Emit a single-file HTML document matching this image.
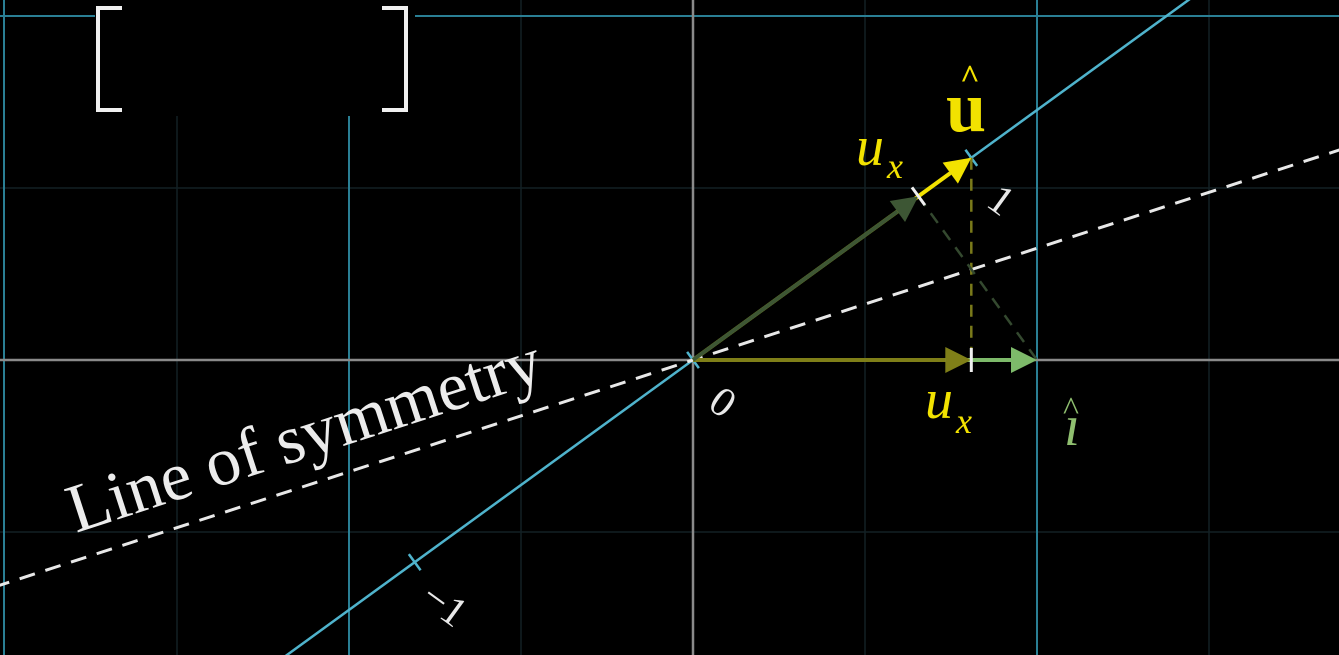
<!DOCTYPE html>
<html><head><meta charset="utf-8"><style>
html,body{margin:0;padding:0;background:#000;width:1339px;height:655px;overflow:hidden}
svg{display:block;overflow:hidden}
text{font-family:"Liberation Serif",serif}
</style></head><body>
<svg id="chart" width="1339" height="655" viewBox="0 0 1339 655">
<rect width="1339" height="655" fill="#000"/>
<g id="grid"></g>
<g id="marks"></g>
</svg>
<script>
// data (in plane units)
const origin = [693, 360];
const unitPx = 344;
const majorGridX = [-2, -1, 1];
const minorGridX = [-1.5, -0.5, 0.5, 1.5];
const majorGridY = [1];
const minorGridY = [0.5, -0.5];
const uAngleDeg = [36];
const uxValue = [0.81];
const tickValues = [-1, 0, 1];

const grid = document.getElementById('grid');
const marks = document.getElementById('marks');
const NS = 'http://www.w3.org/2000/svg';
function X(v){return origin[0] + v*unitPx;}
function Y(v){return origin[1] - v*unitPx;}
function mk(tag, attrs, parent){const e=document.createElementNS(NS,tag);for(const k in attrs)e.setAttribute(k,attrs[k]);(parent||marks).appendChild(e);return e;}

minorGridX.forEach(v=>{
  const l=mk('line',{x1:X(v),y1:0,x2:X(v),y2:655,stroke:'#122024','stroke-width':1.5},grid);
  
  
});
minorGridY.forEach(v=>{
  const l=mk('line',{x1:0,y1:Y(v),x2:1339,y2:Y(v),stroke:'#122024','stroke-width':1.5},grid);
  
  
});
majorGridX.forEach(v=>{
  const l=mk('line',{x1:X(v)+(v===-2?-1:0),y1:0,x2:X(v)+(v===-2?-1:0),y2:655,stroke:'#2a7f94','stroke-width':2},grid);
  
  
});
majorGridY.forEach(v=>{
  const l=mk('line',{x1:0,y1:Y(v),x2:1339,y2:Y(v),stroke:'#2a7f94','stroke-width':2},grid);
  
  
});
let ax=mk('line',{x1:0,y1:Y(0),x2:1339,y2:Y(0),stroke:'#8a8a8a','stroke-width':2.5},grid);


ax=mk('line',{x1:X(0),y1:0,x2:X(0),y2:655,stroke:'#8a8a8a','stroke-width':2.5},grid);



// matrix backdrop
let mb=mk('rect',{x:95,y:0,width:320,height:116,fill:'#000'},grid);


let b1=mk('path',{d:'M122 8 H98 V110 H122',fill:'none',stroke:'#f0f0f0','stroke-width':4},grid);


let b2=mk('path',{d:'M382 8 H406 V110 H382',fill:'none',stroke:'#f0f0f0','stroke-width':4},grid);



const th = uAngleDeg[0]*Math.PI/180;
const ux=[Math.cos(th), Math.sin(th)];
const sym=[Math.cos(th/2), Math.sin(th/2)];

let nl=mk('line',{x1:X(-3*ux[0]),y1:Y(-3*ux[1]),x2:X(3*ux[0]),y2:Y(3*ux[1]),stroke:'#4fb3cc','stroke-width':2.5});


tickValues.forEach(t=>{
  const cx=X(t*ux[0]), cy=Y(t*ux[1]); const px=ux[1]*10, py=ux[0]*10;
  const tk=mk('line',{x1:cx-px,y1:cy-py,x2:cx+px,y2:cy+py,stroke:'#4fb3cc','stroke-width':2.5});
  
  
  const lx=cx+30, ly=cy+42;
  const lb=mk('text',{x:lx,y:ly+14,fill:'#e8e8e8','font-size':42,'text-anchor':'middle',transform:`rotate(${uAngleDeg[0]} ${lx} ${ly})`});
  lb.textContent = t<0 ? '\u2212'+Math.abs(t) : String(t);
  
  
});

let sl=mk('line',{x1:X(-3*sym[0]),y1:Y(-3*sym[1]),x2:X(3*sym[0]),y2:Y(3*sym[1]),stroke:'#e8e8e8','stroke-width':3,'stroke-dasharray':'16 11'});


let st=mk('text',{x:0,y:0,fill:'#ececec','font-size':69,transform:`translate(76,533) rotate(${-uAngleDeg[0]/2})`});
st.textContent='Line of symmetry';



function arrow(x0,y0,x1,y1,color,w,name){
  const dx=x1-x0, dy=y1-y0, L=Math.hypot(dx,dy), ux_=dx/L, uy_=dy/L, h=26, hw=13;
  const bx=x1-ux_*h, by=y1-uy_*h;
  const g=mk('g',{});
  
  
  mk('line',{x1:x0,y1:y0,x2:bx,y2:by,stroke:color,'stroke-width':w},g);
  mk('polygon',{points:`${x1},${y1} ${bx-uy_*hw},${by+ux_*hw} ${bx+uy_*hw},${by-ux_*hw}`,fill:color},g);
}
const u = uxValue[0];
const uTip=[X(ux[0]),Y(ux[1])];
const pTip=[X(u*ux[0]),Y(u*ux[1])];
let d1=mk('line',{x1:uTip[0],y1:uTip[1],x2:uTip[0],y2:Y(0),stroke:'#7a7a1a','stroke-width':2.5,'stroke-dasharray':'12 9'});


let d2=mk('line',{x1:pTip[0],y1:pTip[1],x2:X(1),y2:Y(0),stroke:'#34492f','stroke-width':2.5,'stroke-dasharray':'12 9'});



arrow(X(0),Y(0),X(1),Y(0),'#7dba6a',4,'i-hat-arrow');
arrow(X(0),Y(0),uTip[0],Y(0),'#7f7f18',4,'ux-x-arrow');
arrow(X(0),Y(0),uTip[0],uTip[1],'#f2e200',4,'u-hat-arrow');
arrow(X(0),Y(0),pTip[0],pTip[1],'#3d5634',4,'reflected-i-hat-arrow');

[[uTip[0],Y(0),0,12],[pTip[0],pTip[1],ux[1]*11,ux[0]*11]].forEach(p=>{
  const t=mk('line',{x1:p[0]-p[2],y1:p[1]-p[3],x2:p[0]+p[2],y2:p[1]+p[3],stroke:'#f0f0f0','stroke-width':3});
  
  
});

function label(txt,x,y,size,color,extra,name){
  const t=mk('text',Object.assign({x:x,y:y,fill:color,'font-size':size},extra||{}));
  t.textContent=txt;
  
  
  return t;
}
label('u',946,131,72,'#f2e200',{'font-weight':'bold'},'u-hat-label');
label('^',960,88,34,'#f2e200',{'font-weight':'bold'},'u-hat-caret');
label('u',856,165,56,'#f2e200',{'font-style':'italic'},'ux-label-top');
label('x',887,178,36,'#f2e200',{'font-style':'italic'},'ux-subscript-top');
label('u',925,418,56,'#f2e200',{'font-style':'italic'},'ux-label-bottom');
label('x',956,433,36,'#f2e200',{'font-style':'italic'},'ux-subscript-bottom');
label('\u0131',1064,445,58,'#8fbf6f',{'font-style':'italic'},'i-hat-label');
label('^',1063,420,34,'#8fbf6f',{},'i-hat-caret');
</script>
</body></html>
